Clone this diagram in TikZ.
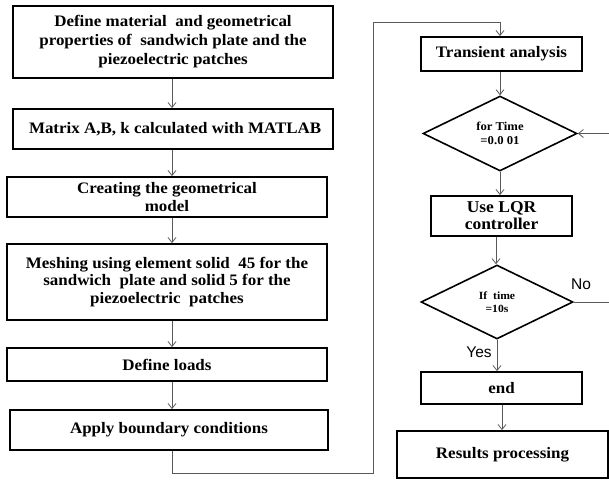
\documentclass[tikz,border=0pt]{standalone}
\usepackage{fontspec}
\setmainfont[FakeStretch=1.06]{Liberation Serif}
\newfontfamily\sansf{Liberation Sans}
\usetikzlibrary{shapes.geometric,arrows.meta}
\begin{document}
\begin{tikzpicture}[x=1pt,y=-1pt,
  box/.style={draw=black,line width=1.8pt,rectangle,align=center,inner sep=0pt,
    font=\bfseries\fontsize{16}{18.5}\selectfont},
  dia/.style={draw=black,line width=1.6pt,diamond,align=center,inner sep=0pt,aspect=2.05},
  conn/.style={draw=black!65,line width=0.8pt},
  arr/.style={conn,-{Straight Barb[length=5pt,width=8pt]}},
  lab/.style={font=\sansf\fontsize{15.5}{17}\selectfont,inner sep=0pt}]
\useasboundingbox (0,0) rectangle (609,479);
% left column
\node[box,minimum width=320,minimum height=72,font=\bfseries\fontsize{16}{19}\selectfont] (b1) at (173,42)
  {Define material\ \ and geometrical\\properties of\ \ sandwich plate and the\\piezoelectric patches};
\node[box,minimum width=320,minimum height=40] (b2) at (173,129)
  {\ Matrix A,B, k calculated with MATLAB};
\node[box,minimum width=320,minimum height=40] (b3) at (167,197)
  {Creating the geometrical\\model};
\node[box,minimum width=320,minimum height=76,font=\bfseries\fontsize{16}{17.5}\selectfont] (b4) at (167,282)
  {Meshing using element solid\ \ 45 for the\\sandwich\ \ plate and solid 5 for the\\piezoelectric\ \ patches};
\node[box,minimum width=320,minimum height=33] (b5) at (167,364.5)
  {Define loads};
\node[box,minimum width=318,minimum height=40] (b6) at (169,430)
  {Apply boundary conditions};
% right column
\node[box,minimum width=161,minimum height=34] (t) at (501.5,54) {Transient analysis};
\node[dia,minimum width=154,minimum height=75,font=\bfseries\fontsize{12}{14}\selectfont] (d1) at (500,133.5)
  {for Time\\=0.0 01};
\node[box,minimum width=141,minimum height=40,font=\bfseries\fontsize{16.5}{17}\selectfont] (lqr) at (501.5,216)
  {Use LQR\\controller};
\node[dia,minimum width=152,minimum height=74,font=\bfseries\fontsize{11}{13}\selectfont] (d2) at (497,302)
  {If\ \ time\\=10s};
\node[box,minimum width=161,minimum height=32] (e) at (501.5,388) {end};
\node[box,minimum width=211,minimum height=47] (r) at (502.5,454.5) {Results processing};
% labels
\node[lab] (no) at (581,284) {No};
\node[lab] (yes) at (479,352) {Yes};
% connectors
\coordinate (x0) at (172,0);
\draw[arr] (b1.south -| x0) -- (b2.north -| x0);
\draw[arr] (b2.south -| x0) -- (b3.north -| x0);
\draw[arr] (b3.south -| x0) -- (b4.north -| x0);
\draw[arr] (b4.south -| x0) -- (b5.north -| x0);
\draw[arr] (b5.south -| x0) -- (b6.north -| x0);
\coordinate (c1) at (172,473);
\coordinate (c2) at (373,473);
\coordinate (c3) at (373,22);
\coordinate (c4) at (500,22);
\draw[arr] (b6.south -| x0) -- (c1) -- (c2) -- (c3) -- (c4) -- (t.north -| c4);
\draw[arr] (t.south -| d1.north) -- (d1.north);
\draw[arr] (d1.south) -- (lqr.north -| d1.south);
\coordinate (x1) at (496,0);
\draw[arr] (lqr.south -| x1) -- (d2.north -| x1);
\draw[arr] (d2.south) -- (e.north -| d2.south);
\coordinate (x2) at (502,0);
\draw[arr] (e.south -| x2) -- (r.north -| x2);
\coordinate (o1) at (625,302);
\coordinate (o2) at (625,133.5);
\draw[arr] (d2.east) -- (o1) -- (o2) -- (d1.east);
\end{tikzpicture}
\end{document}
